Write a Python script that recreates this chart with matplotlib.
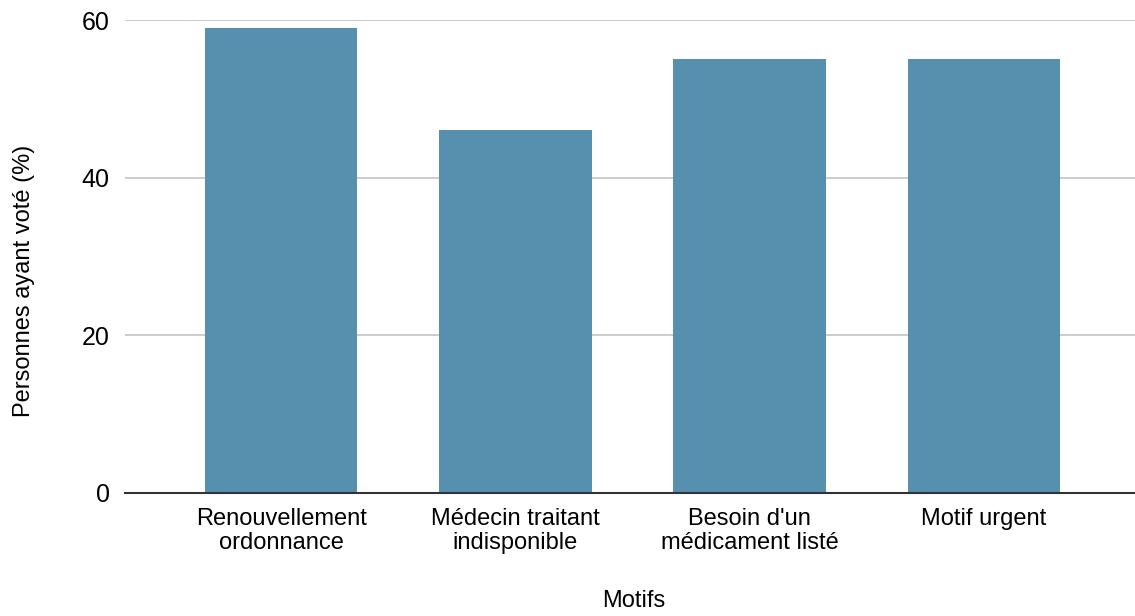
import matplotlib.pyplot as plt
import numpy as np

plt.rcParams['font.family'] = ['Liberation Sans', 'DejaVu Sans']

# data
motifs = ["Renouvellement\nordonnance", "Médecin traitant\nindisponible",
          "Besoin d'un\nmédicament listé", "Motif urgent"]
pourcentages = [59, 46, 55, 55]

fig = plt.figure(figsize=(11.35, 6.16), dpi=100)
ax = fig.add_axes([0.110, 0.1997, 0.890, 0.7678])

x = np.arange(len(motifs))
ax.bar(x, pourcentages, width=0.65, color='#5790AE', zorder=2)

ax.set_xlim(-0.667, 3.645)
ax.set_ylim(0, 60)
ax.set_yticks([0, 20, 40, 60])
ax.set_xticks(x)
ax.set_xticklabels(motifs, fontsize=17, linespacing=1.1)
ax.tick_params(axis='y', labelsize=18, length=0, pad=11)
ax.tick_params(axis='x', length=0, pad=11)

ax.grid(axis='y', color='#c8c8c8', linewidth=1.3, zorder=0)
ax.set_axisbelow(True)
for s in ['top', 'right', 'left']:
    ax.spines[s].set_visible(False)
ax.spines['bottom'].set_color('#333333')
ax.spines['bottom'].set_linewidth(1.5)
ax.spines['bottom'].set_zorder(3)

fig.text(24 / 1135, 1 - 281 / 616, "Personnes ayant voté (%)", fontsize=17,
         rotation=90, ha='center', va='center')
fig.text(0.5585, 1 - 601 / 616, "Motifs", fontsize=17, ha='center', va='center')

fig.savefig("out.png", dpi=100)
